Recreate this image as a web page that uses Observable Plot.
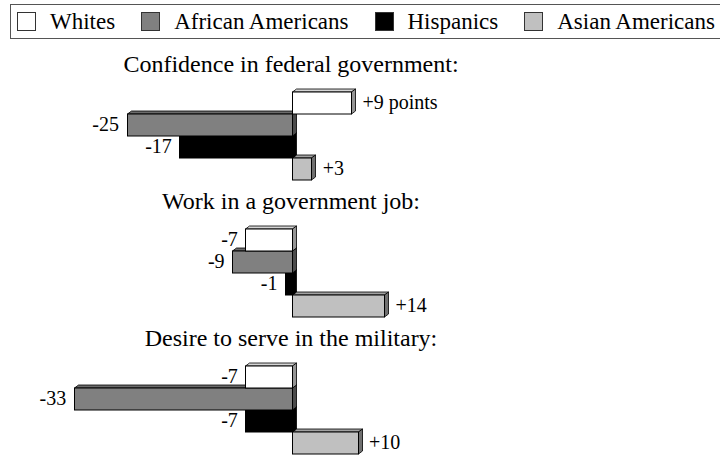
<!DOCTYPE html>
<html><head><meta charset="utf-8">
<script src="https://cdn.jsdelivr.net/npm/d3@7"></script>
<script src="https://cdn.jsdelivr.net/npm/@observablehq/plot@0.6"></script>
<style>
html,body{margin:0;padding:0;background:#fff;}
body{width:720px;height:455px;overflow:hidden;font-family:"Liberation Serif","Times New Roman",serif;}
#legend{margin:4px 0 0 10px;height:33px;width:800px;border:1px solid #555;border-right:none;display:flex;align-items:center;padding-left:6px;font-size:23px;white-space:nowrap;color:#000;}
.item{display:flex;align-items:center;margin-right:26px;}
.sw{width:19px;height:19px;border:1px solid #333;box-sizing:border-box;margin-right:14px;}
#chart svg{display:block;}
</style></head>
<body><div id="legend"></div><div id="chart"></div>
<script>
const questions = ["Confidence in federal government:", "Work in a government job:", "Desire to serve in the military:"];
const groups = ["Whites", "African Americans", "Hispanics", "Asian Americans"];
const confidence = [9, -25, -17, 3];
const govJob = [-7, -9, -1, 14];
const military = [-7, -33, -7, 10];
const groupFills = ["#ffffff", "#808080", "#000000", "#c0c0c0"];
const firstUnit = " points";

const seriesByQuestion = [confidence, govJob, military];
const data = questions.flatMap((q, qi) => groups.map((g, gi) => ({
  question: q, group: g, value: seriesByQuestion[qi][gi],
  label: (seriesByQuestion[qi][gi] > 0 ? "+" : "") + seriesByQuestion[qi][gi] + (qi === 0 && gi === 0 ? firstUnit : "")
})));

// legend
const legend = d3.select("#legend");
groups.forEach((g, i) => {
  const it = legend.append("div").attr("class", "item");
  it.append("div").attr("class", "sw").style("background", groupFills[i]);
  it.append("span").text(g);
});

function bars3d(index, scales, values) {
  const X1 = values.x1, X2 = values.x2, Y = values.y, F = values.fill;
  const bw = scales.y.bandwidth();
  const ddx = 4, ddy = 3;
  const g = d3.create("svg:g");
  const order = Array.from(index).sort((a, b) => Y[b] - Y[a]);
  for (const i of order) {
    const xa = Math.round(Math.min(X1[i], X2[i])) + 0.5;
    const xb = Math.round(Math.max(X1[i], X2[i])) + 0.5;
    const y0 = Math.round(Y[i]) + 0.5, y1 = Math.round(Y[i] + bw) + 0.5;
    const c = d3.color(F[i]);
    const top = c.darker(0.5).formatHex();
    const side = c.darker(1.5).formatHex();
    g.append("polygon")
      .attr("points", [[xa, y0], [xa + ddx, y0 - ddy], [xb + ddx, y0 - ddy], [xb, y0]].join(" "))
      .attr("fill", top).attr("stroke", "#000").attr("stroke-width", 0.8).attr("stroke-linejoin", "round");
    g.append("polygon")
      .attr("points", [[xb, y0], [xb + ddx, y0 - ddy], [xb + ddx, y1 - ddy], [xb, y1]].join(" "))
      .attr("fill", side).attr("stroke", "#000").attr("stroke-width", 0.8).attr("stroke-linejoin", "round");
    g.append("rect")
      .attr("x", xa).attr("y", y0).attr("width", xb - xa).attr("height", y1 - y0)
      .attr("fill", F[i]).attr("stroke", "#000").attr("stroke-width", 1);
  }
  return g.node();
}

const zeroX = 291.5, pxPerUnit = 6.6;
const chart = Plot.plot({
  width: 720, height: 416,
  marginTop: 51.5, marginBottom: 0.5, marginLeft: 0, marginRight: 0,
  style: {fontFamily: '"Liberation Serif","Times New Roman",serif', background: "#fff", overflow: "visible"},
  x: {domain: [-zeroX / pxPerUnit, (720 - zeroX) / pxPerUnit], axis: null},
  y: {domain: groups, axis: null, padding: 0},
  fy: {domain: questions, axis: null, paddingInner: 0.3527, paddingOuter: 0},
  color: {domain: groups, range: groupFills},
  marks: [
    Plot.barX(data, {x: "value", y: "group", fy: "question", fill: "group", render: bars3d}),
    Plot.text(data.filter(d => d.value > 0), {x: "value", y: "group", fy: "question", text: "label", textAnchor: "start", dx: 11, fontSize: 20, fill: "#000"}),
    Plot.text(data.filter(d => d.value < 0), {x: "value", y: "group", fy: "question", text: "label", textAnchor: "end", dx: -8, fontSize: 20, fill: "#000"}),
    Plot.text(questions, {fy: d => d, x: 0, text: d => d, frameAnchor: "top", lineAnchor: "middle", dy: -27, dx: -1, fontSize: 24, fill: "#000"})
  ]
});
document.getElementById("chart").appendChild(chart);
</script>
</body></html>
